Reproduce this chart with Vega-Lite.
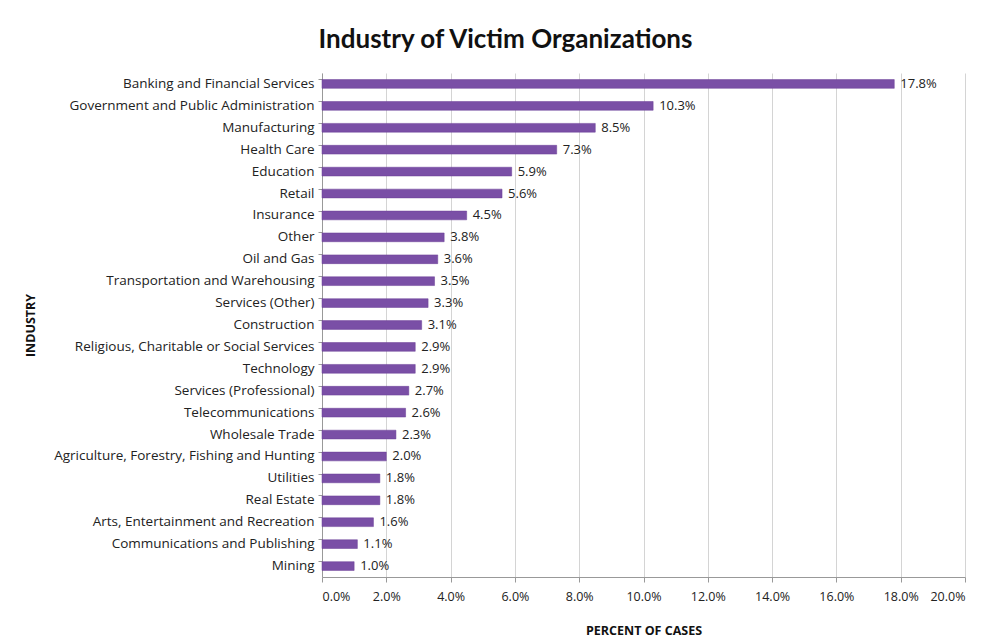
{
  "$schema": "https://vega.github.io/schema/vega-lite/v6.json",
  "autosize": {"type": "none"},
  "width": 643,
  "height": 504,
  "padding": {"left": 322, "top": 73, "right": 21, "bottom": 65},
  "background": "white",
  "title": {
    "text": "Industry of Victim Organizations",
    "font": "Lato",
    "fontSize": 26,
    "fontWeight": "bold",
    "color": "#111111",
    "anchor": "middle",
    "dx": -138,
    "offset": 20
  },
  "data": {
    "values": [
      {"industry": "Banking and Financial Services", "pct": 0.178},
      {"industry": "Government and Public Administration", "pct": 0.103},
      {"industry": "Manufacturing", "pct": 0.085},
      {"industry": "Health Care", "pct": 0.073},
      {"industry": "Education", "pct": 0.059},
      {"industry": "Retail", "pct": 0.056},
      {"industry": "Insurance", "pct": 0.045},
      {"industry": "Other", "pct": 0.038},
      {"industry": "Oil and Gas", "pct": 0.036},
      {"industry": "Transportation and Warehousing", "pct": 0.035},
      {"industry": "Services (Other)", "pct": 0.033},
      {"industry": "Construction", "pct": 0.031},
      {"industry": "Religious, Charitable or Social Services", "pct": 0.029},
      {"industry": "Technology", "pct": 0.029},
      {"industry": "Services (Professional)", "pct": 0.027},
      {"industry": "Telecommunications", "pct": 0.026},
      {"industry": "Wholesale Trade", "pct": 0.023},
      {"industry": "Agriculture, Forestry, Fishing and Hunting", "pct": 0.020},
      {"industry": "Utilities", "pct": 0.018},
      {"industry": "Real Estate", "pct": 0.018},
      {"industry": "Arts, Entertainment and Recreation", "pct": 0.016},
      {"industry": "Communications and Publishing", "pct": 0.011},
      {"industry": "Mining", "pct": 0.010}
    ]
  },
  "encoding": {
    "y": {
      "field": "industry",
      "type": "nominal",
      "sort": null,
      "scale": {"paddingInner": 0.6, "paddingOuter": 0.3},
      "axis": {
        "title": "INDUSTRY",
        "titleFont": "Open Sans",
        "titleFontSize": 12.5,
        "titleFontWeight": "bold",
        "titleColor": "#111111",
        "titleX": -292,
        "titleY": 252,
        "titleAlign": "center",
        "titleBaseline": "middle",
        "titleAngle": -90,
        "labelFont": "Open Sans",
        "labelFontSize": 13.5,
        "labelColor": "#222222",
        "labelPadding": 4,
        "labelLimit": 400,
        "bandPosition": 0,
        "tickSize": 4,
        "tickColor": "#999999",
        "domainColor": "#999999",
        "grid": false
      }
    },
    "x": {
      "field": "pct",
      "type": "quantitative",
      "scale": {"domain": [0, 0.2], "nice": false},
      "axis": {
        "title": "PERCENT OF CASES",
        "titleFont": "Open Sans",
        "titleFontSize": 12.5,
        "titleFontWeight": "bold",
        "titleColor": "#111111",
        "titlePadding": 22,
        "format": ".1%",
        "values": [0, 0.02, 0.04, 0.06, 0.08, 0.1, 0.12, 0.14, 0.16, 0.18, 0.2],
        "labelFont": "Open Sans",
        "labelFontSize": 12.5,
        "labelColor": "#222222",
        "labelPadding": 8,
        "tickSize": 5,
        "tickColor": "#999999",
        "domainColor": "#999999",
        "grid": true,
        "gridColor": "#d4d4d4"
      }
    }
  },
  "layer": [
    {"mark": {"type": "bar", "color": "#7A4FA6", "stroke": "#6a3f96", "strokeWidth": 0.5}},
    {
      "mark": {"type": "text", "align": "left", "dx": 6, "font": "Open Sans", "fontSize": 13, "color": "#222222"},
      "encoding": {"text": {"field": "pct", "type": "quantitative", "format": ".1%"}}
    }
  ],
  "config": {"view": {"stroke": null}}
}
